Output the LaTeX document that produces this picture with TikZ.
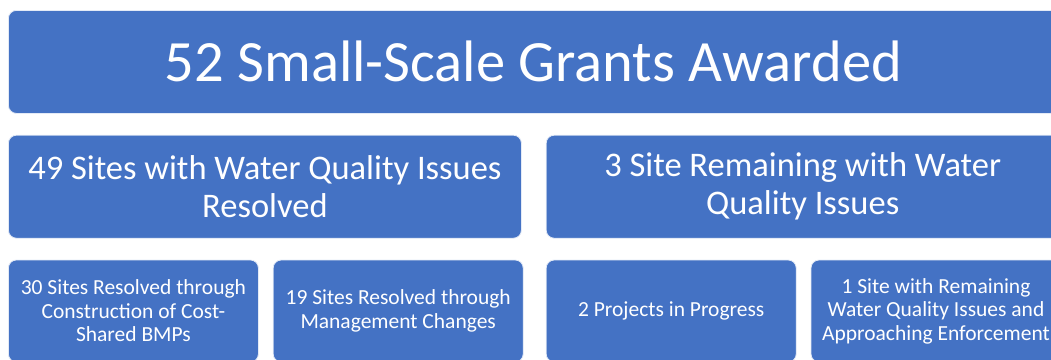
\documentclass[tikz,border=0pt]{standalone}
\usepackage{fontspec}
\setmainfont{Carlito}
\definecolor{grantblue}{RGB}{68, 114, 196}
\usetikzlibrary{positioning}

\begin{document}
\begin{tikzpicture}[x=1pt, y=1pt, node distance=21pt and 24pt,
    box/.style={draw=white!85!grantblue, line width=0.8pt, fill=grantblue,
      rounded corners=8pt, text=white, align=center, inner sep=0pt},
    bigbox/.style={box, minimum width=1050pt, minimum height=103pt,
      font=\fontsize{58.5}{66}\selectfont},
    midbox/.style={box, minimum width=513pt, minimum height=103pt,
      font=\fontsize{34.5}{38}\selectfont},
    smallbox/.style={box, minimum width=250pt, minimum height=102pt,
      font=\fontsize{21.5}{23.5}\selectfont}]
  \useasboundingbox (0,0) rectangle (1051,-359);
  \clip (0,0) rectangle (1051,-359);

  % top level
  \node[bigbox, anchor=north west] (grants) at (8,-10) {52 Small-Scale Grants Awarded};

  % second level
  \node[midbox, below right=21pt and 0pt of grants.south west] (resolved)
    {49 Sites with Water Quality Issues\\Resolved};
  \node[midbox, right=24pt of resolved] (remaining)
    {3 Site Remaining with Water\\Quality Issues};

  % third level
  \node[smallbox, below right=21pt and 0pt of resolved.south west] (bmps)
    {30 Sites Resolved through\\Construction of Cost-\\Shared BMPs};
  \node[smallbox, right=14pt of bmps] (mgmt)
    {19 Sites Resolved through\\Management Changes};
  \node[smallbox, below right=21pt and 0pt of remaining.south west] (progress)
    {2 Projects in Progress};
  \node[smallbox, right=14pt of progress] (enforce)
    {1 Site with Remaining\\Water Quality Issues and\\Approaching Enforcement};
\end{tikzpicture}
\end{document}
